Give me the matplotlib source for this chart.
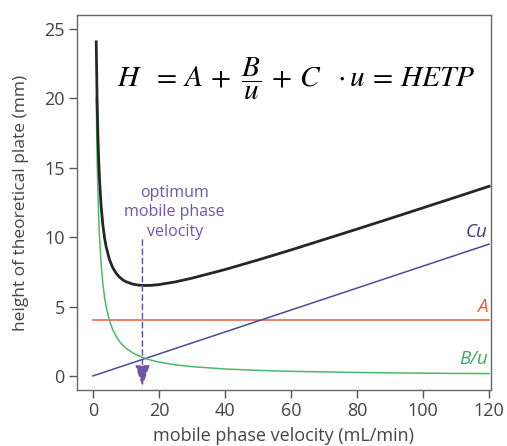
import matplotlib.pyplot as plt
import numpy as np

plt.rcParams['font.family'] = ['Open Sans', 'DejaVu Sans']
plt.rcParams['mathtext.fontset'] = 'stix'

# flow velocities (mL/min) and the van Deemter terms
u = [1, 1.25, 1.5, 1.75, 2, 2.5, 3, 3.5, 4, 5, 6, 7, 8, 9, 10, 12, 14, 16,
     18, 20, 25, 30, 40, 50, 60, 70, 80, 90, 100, 110, 120]
b_term = [20, 16, 13.3, 11.4, 10, 8.0, 6.67, 5.71, 5.0, 4.0, 3.33, 2.86, 2.5,
          2.22, 2.0, 1.67, 1.43, 1.25, 1.11, 1.0, 0.8, 0.67, 0.5, 0.4, 0.33,
          0.29, 0.25, 0.22, 0.2, 0.18, 0.17]
a_term = 4.0
c_u = [0, 120]
c_term = [0, 9.5]
u_opt = 15

u_arr = np.array(u)
h_total = a_term + np.array(b_term) + np.interp(u_arr, c_u, c_term)

fig = plt.figure(figsize=(5.07, 4.46), dpi=100)
ax = fig.add_axes([0.152, 0.126, 0.816, 0.840])

green = '#4cb86a'
red = '#e2603c'
blue = '#4a4a96'
purple = '#6e56a8'

ax.plot([0, 120], [a_term, a_term], color=red, lw=1.1)
ax.plot(c_u, c_term, color=blue, lw=1.1)
ax.plot(u, b_term, color=green, lw=1.1)
ax.plot(u, h_total, color='#262626', lw=2.0, solid_joinstyle='round')

ax.annotate('', xy=(u_opt, -0.95), xytext=(u_opt, 10.0),
            arrowprops=dict(arrowstyle='-|>,head_length=1.3,head_width=0.45',
                            color=purple, lw=1.1, ls=(0, (3.5, 2.5))))
ax.text(24.8, 11.8, 'optimum\nmobile phase\nvelocity', color=purple,
        ha='center', va='center', fontsize=11.5, linespacing=1.3)

ax.text(119.5, 9.75, 'Cu', color='#3c3c78', fontsize=13.5, style='italic',
        ha='right', va='bottom')
ax.text(119.5, 4.3, 'A', color=red, fontsize=13.5, style='italic',
        ha='right', va='bottom')
ax.text(119.5, 0.58, 'B/u', color='#3ea85e', fontsize=13.5, style='italic',
        ha='right', va='bottom')

ax.text(61.5, 21.4,
        r'$H\ \ =\,A\,+\ \dfrac{B}{u}\,+\,C\ \ \cdot u\,=\,HETP$',
        fontsize=21.2, ha='center', va='center', color='black')

ax.set_xlim(-4.8, 120.5)
ax.set_ylim(-1.0, 26.0)
ax.set_xticks([0, 20, 40, 60, 80, 100, 120])
ax.set_yticks([0, 5, 10, 15, 20, 25])
ax.tick_params(colors='#555555', labelcolor='#444444', labelsize=13,
               length=6, width=1.0, pad=3)
for s in ax.spines.values():
    s.set_color('#666666')
    s.set_linewidth(1.0)

ax.set_xlabel('mobile phase velocity (mL/min)', fontsize=13, color='#444444',
              labelpad=4.5)
ax.set_ylabel('height of theoretical plate (mm)', fontsize=12.5, color='#444444',
              labelpad=11)

fig.savefig('out.png', dpi=100)
